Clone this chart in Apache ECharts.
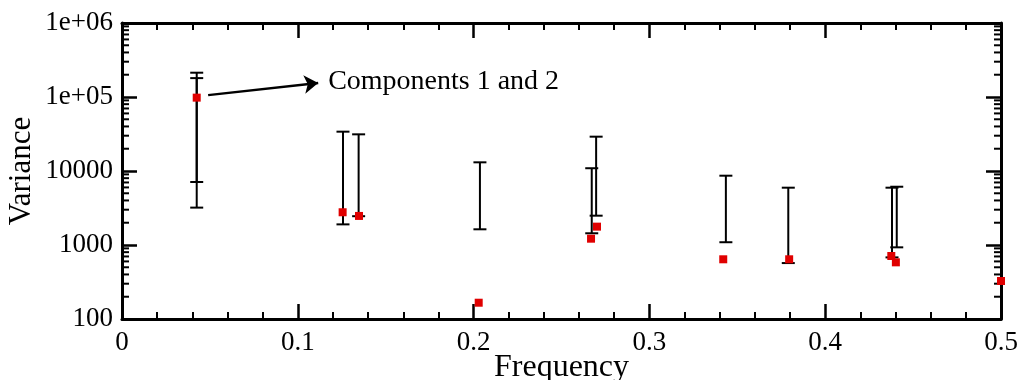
<!DOCTYPE html>
<html>
<head>
<meta charset="utf-8">
<script src="https://cdn.jsdelivr.net/npm/echarts@6/dist/echarts.min.js"></script>
<style>
  html, body { margin: 0; padding: 0; background: #fff; }
  #main { width: 1023px; height: 380px; }
</style>
</head>
<body>
<div id="main"></div>
<script>
// error bars: frequency, lower and upper variance
const barFreq = [0.0425, 0.0425, 0.1257, 0.1346, 0.2036, 0.2672, 0.2697, 0.3435, 0.379, 0.438, 0.4407];
const barLow = [3200, 7100, 1900, 2450, 1630, 1440, 2490, 1090, 570, 680, 930];
const barHigh = [213000, 180000, 34000, 31300, 13100, 10900, 29100, 8640, 5950, 5950, 6130];

// red points
const pointFreq = [0.0425, 0.1255, 0.1348, 0.2029, 0.2668, 0.2702, 0.342, 0.3795, 0.4376, 0.4402, 0.5];
const pointVar = [98000, 2770, 2470, 166, 1217, 1770, 641, 641, 710, 583, 326];

// axis ticks
const xTickLabels = ["0", "0.1", "0.2", "0.3", "0.4", "0.5"];
const yTicks = [100, 1000, 10000, 100000, 1000000];
const yTickLabels = ["100", "1000", "10000", "1e+05", "1e+06"];

// annotation arrow (from point to text)
const arrowFrom = [0.049, 106000];
const arrowTo = [0.1116, 154600];
const annotationText = "Components 1 and 2";

const FONT = "Liberation Serif";

// log minor ticks 2..9 in every decade
const yMinor = [];
for (let d = 100; d < 1000000; d *= 10) {
  for (let k = 2; k <= 9; k++) yMinor.push([k * d]);
}

const chart = echarts.init(document.getElementById("main"), null, { renderer: "canvas" });

const axisLine = { show: true, onZero: false, lineStyle: { color: "#000", width: 3 } };
const xBase = {
  type: "value",
  min: 0,
  max: 0.5,
  interval: 0.1,
  splitLine: { show: false },
  axisLine: axisLine,
  axisTick: { show: true, inside: true, length: 15, lineStyle: { color: "#000", width: 2.5 } },
  minorTick: { show: true, splitNumber: 5, length: 7, lineStyle: { color: "#000", width: 2 } }
};
const yBase = {
  type: "log",
  logBase: 10,
  min: 100,
  max: 1000000,
  splitLine: { show: false },
  axisLine: axisLine,
  axisTick: { show: true, inside: true, length: 15, lineStyle: { color: "#000", width: 2.5 } },
  minorTick: { show: false }
};

const tick = (x1, y1, x2, y2) => ({
  type: "line",
  shape: { x1: x1, y1: y1, x2: x2, y2: y2 },
  style: { stroke: "#000", lineWidth: 2 }
});

const option = {
  animation: false,
  backgroundColor: "#fff",
  grid: { left: 122, right: 22, top: 23, bottom: 61, containLabel: false, outerBoundsMode: "none" },
  xAxis: [
    Object.assign({}, xBase, {
      position: "bottom",
      name: "Frequency",
      nameLocation: "middle",
      nameGap: 33,
      nameMoveOverlap: false,
      nameTextStyle: { fontFamily: FONT, fontSize: 32, color: "#000" },
      axisLabel: {
        fontFamily: FONT, fontSize: 27, color: "#000", margin: 10,
        formatter: (v) => xTickLabels[Math.round(v * 10)]
      }
    }),
    Object.assign({}, xBase, { position: "top", axisLabel: { show: false } })
  ],
  yAxis: [
    Object.assign({}, yBase, {
      position: "left",
      name: "Variance",
      nameLocation: "middle",
      nameGap: 85,
      nameMoveOverlap: false,
      nameTextStyle: { fontFamily: FONT, fontSize: 31, color: "#000" },
      axisLabel: {
        fontFamily: FONT, fontSize: 27, color: "#000", margin: 9,
        formatter: (v) => {
          const i = yTicks.findIndex((t) => Math.abs(t - v) / t < 1e-6);
          return i >= 0 ? yTickLabels[i] : "";
        }
      }
    }),
    Object.assign({}, yBase, { position: "right", axisLabel: { show: false } })
  ],
  series: [
    {
      type: "custom",
      name: "minor",
      silent: true,
      clip: false,
      data: yMinor,
      encode: { y: 0 },
      renderItem: (params, api) => {
        const v = api.value(0);
        const l = api.coord([0, v]);
        const r = api.coord([0.5, v]);
        return {
          type: "group",
          children: [tick(l[0], l[1], l[0] + 7, l[1]), tick(r[0], r[1], r[0] - 7, r[1])]
        };
      }
    },
    {
      type: "custom",
      name: "errors",
      data: barFreq.map((f, i) => [f, barLow[i], barHigh[i]]),
      encode: { x: 0, y: [1, 2] },
      renderItem: (params, api) => {
        const x = api.value(0);
        const lo = api.coord([x, api.value(1)]);
        const hi = api.coord([x, api.value(2)]);
        const w = 6.5;
        const st = { stroke: "#000", lineWidth: 2 };
        return {
          type: "group",
          children: [
            { type: "line", shape: { x1: lo[0], y1: lo[1], x2: hi[0], y2: hi[1] }, style: st },
            { type: "line", shape: { x1: lo[0] - w, y1: lo[1], x2: lo[0] + w, y2: lo[1] }, style: st },
            { type: "line", shape: { x1: hi[0] - w, y1: hi[1], x2: hi[0] + w, y2: hi[1] }, style: st }
          ]
        };
      }
    },
    {
      type: "scatter",
      name: "variance",
      symbol: "rect",
      symbolSize: 8,
      clip: true,
      itemStyle: { color: "#e00000", opacity: 1 },
      data: pointFreq.map((f, i) => [f, pointVar[i]]),
      markLine: {
        silent: true,
        symbol: ["none", "arrow"],
        symbolSize: 14,
        lineStyle: { color: "#000", width: 2.5, type: "solid" },
        label: {
          show: true,
          position: "end",
          distance: 10,
          formatter: annotationText,
          fontFamily: FONT,
          fontSize: 28,
          color: "#000"
        },
        data: [[{ coord: arrowFrom }, { coord: arrowTo }]]
      }
    }
  ]
};

chart.setOption(option);
</script>
</body>
</html>
